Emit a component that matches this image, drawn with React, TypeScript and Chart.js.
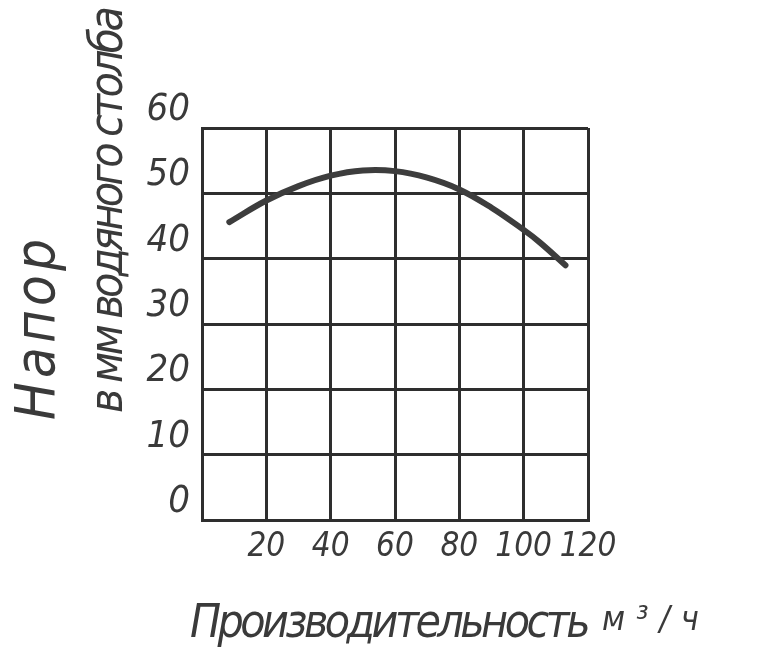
import React, { useEffect, useRef } from "react";
import { Chart, registerables } from "chart.js";

Chart.register(...registerables);

// ---- data ----
const FLOW = [8.5, 20, 30, 40, 50, 60, 70, 80, 90, 100, 105, 113]; // м³/ч
const HEAD = [45.6, 48.9, 51.1, 52.7, 53.5, 53.4, 52.4, 50.6, 47.8, 44.4, 42.5, 39.0]; // мм вод. ст.
const X_TICKS = [0, 20, 40, 60, 80, 100, 120];
const Y_TICKS = [0, 10, 20, 30, 40, 50, 60];
const Y_TITLE_1 = "Напор";
const Y_TITLE_2 = "в мм водяного столба";
const X_TITLE = "Производительность";
const X_UNIT = "м³/ч";

const INK = "#2e2e2e";
const TEXT_INK = "#3a3a3a";
const FONT = "'Liberation Sans Narrow', 'DejaVu Sans Condensed', 'Liberation Sans', sans-serif";

function drawSpread(ctx: CanvasRenderingContext2D, text: string, x: number, y: number, width: number) {
  (ctx as any).letterSpacing = "0px";
  const w = ctx.measureText(text).width;
  const n = Array.from(text).length;
  const extra = n > 1 ? (width - w) / n : 0;
  (ctx as any).letterSpacing = `${extra}px`;
  ctx.fillText(text, x, y);
  (ctx as any).letterSpacing = "0px";
}

const titlePlugin = {
  id: "handTitles",
  afterDraw(chart: any) {
    const { ctx, chartArea: a } = chart;
    ctx.save();
    ctx.fillStyle = TEXT_INK;
    ctx.textAlign = "left";
    ctx.textBaseline = "alphabetic";

    // y-axis titles (rotated, reading bottom to top)
    ctx.save();
    ctx.translate(a.left - 148, a.bottom - 100);
    ctx.rotate(-Math.PI / 2);
    ctx.font = `italic 56px ${FONT}`;
    drawSpread(ctx, Y_TITLE_1, 0, 0, 185);
    ctx.restore();

    ctx.save();
    ctx.translate(a.left - 80, a.bottom - 107);
    ctx.rotate(-Math.PI / 2);
    ctx.font = `italic 46px ${FONT}`;
    drawSpread(ctx, Y_TITLE_2, 0, 0, 403);
    ctx.restore();

    // x-axis title
    ctx.font = `italic 46px ${FONT}`;
    drawSpread(ctx, X_TITLE, a.left - 12, a.bottom + 117, 397);
    ctx.font = `italic 34px ${FONT}`;
    drawSpread(ctx, X_UNIT, a.left + 400, a.bottom + 110, 108);

    ctx.restore();
  },
};

export default function App() {
  const ref = useRef<HTMLCanvasElement | null>(null);

  useEffect(() => {
    if (!ref.current) return;
    const chart = new Chart(ref.current, {
      type: "line",
      data: {
        datasets: [
          {
            data: FLOW.map((x, i) => ({ x, y: HEAD[i] })),
            borderColor: "#3d3d3d",
            borderWidth: 6,
            borderCapStyle: "round",
            pointRadius: 0,
            fill: false,
            tension: 0.4,
          },
        ],
      },
      options: {
        animation: false,
        responsive: true,
        maintainAspectRatio: false,
        layout: { padding: { left: 0, top: 128, right: 170, bottom: 0 } },
        plugins: { legend: { display: false }, tooltip: { enabled: false } },
        scales: {
          x: {
            type: "linear",
            min: X_TICKS[0],
            max: X_TICKS[X_TICKS.length - 1],
            afterFit: (s: any) => {
              s.height = 128;
            },
            afterBuildTicks: (s: any) => {
              s.ticks = X_TICKS.map((v) => ({ value: v }));
            },
            grid: { color: INK, lineWidth: 3, drawTicks: false },
            border: { display: true, color: INK, width: 3 },
            ticks: {
              padding: 8,
              autoSkip: false,
              maxRotation: 0,
              minRotation: 0,
              color: TEXT_INK,
              font: { family: FONT, size: 33, style: "italic" },
              callback: (v: any) => (v === 0 ? "" : String(v)),
            },
          },
          y: {
            type: "linear",
            min: Y_TICKS[0],
            max: Y_TICKS[Y_TICKS.length - 1],
            afterFit: (s: any) => {
              s.width = 202;
            },
            afterBuildTicks: (s: any) => {
              s.ticks = Y_TICKS.map((v) => ({ value: v }));
            },
            grid: { color: INK, lineWidth: 3, drawTicks: false },
            border: { display: true, color: INK, width: 3 },
            ticks: {
              padding: 12,
              labelOffset: -18,
              autoSkip: false,
              color: TEXT_INK,
              font: { family: FONT, size: 38, style: "italic" },
              callback: (v: any) => String(v),
            },
          },
        },
      },
      plugins: [titlePlugin],
    });
    return () => chart.destroy();
  }, []);

  return (
    <div style={{ position: "absolute", left: 0, top: 0, width: 758, height: 648, background: "#fff" }}>
      <canvas ref={ref} />
    </div>
  );
}
